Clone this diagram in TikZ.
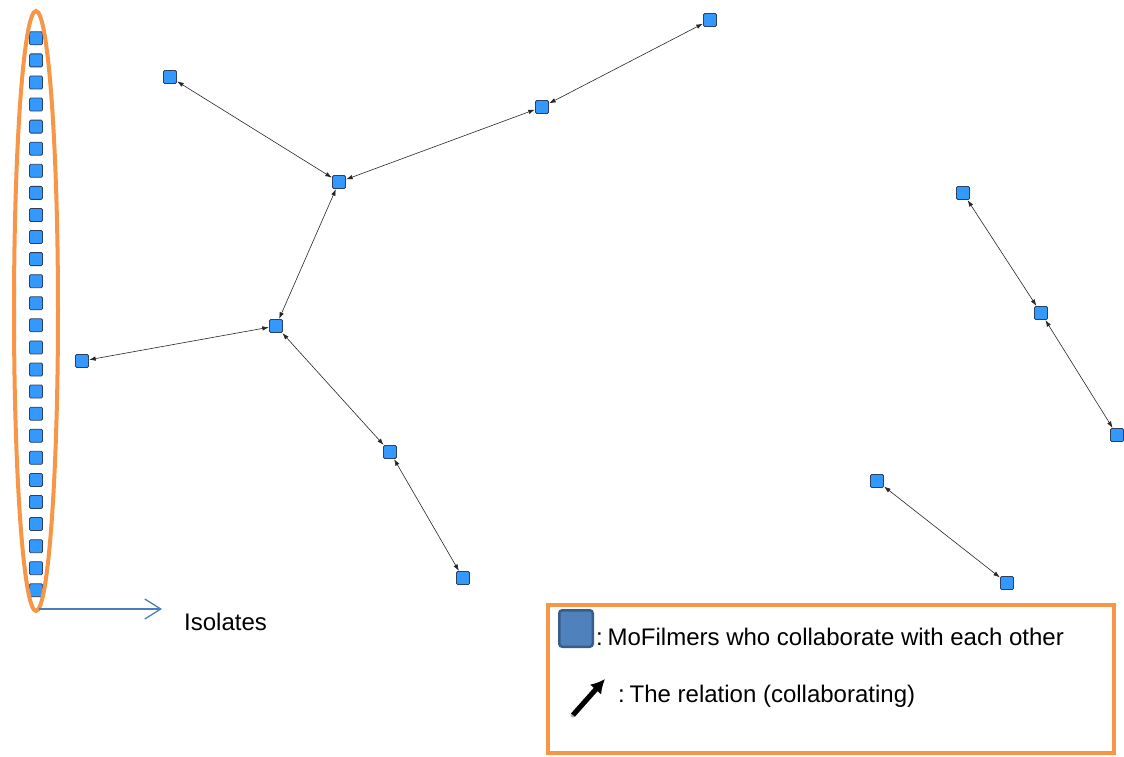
\documentclass[tikz,border=0pt]{standalone}
\usepackage{fontspec}
\setmainfont{Liberation Sans}
\usetikzlibrary{arrows.meta,shapes.geometric}
\definecolor{nodeblue}{RGB}{51,153,255}
\definecolor{nodeedge}{RGB}{45,65,95}
\definecolor{ringorange}{RGB}{247,150,70}
\definecolor{isoblue}{RGB}{74,126,187}
\definecolor{legfill}{RGB}{79,129,189}
\definecolor{legedge}{RGB}{56,93,138}
\tikzset{
  netnode/.style={rectangle, minimum size=13pt, inner sep=0pt, fill=nodeblue,
    draw=nodeedge, line width=0.8pt, rounded corners=1.2pt},
  link/.style={draw=black!85, line width=0.6pt,
    {Latex[length=6.5pt,width=4.5pt]}-{Latex[length=6.5pt,width=4.5pt]}, shorten <=0.3pt, shorten >=0.3pt},
  bigtext/.style={font=\fontsize{24}{28}\selectfont, inner sep=0pt}
}
\begin{document}
\begin{tikzpicture}[x=1pt,y=-1pt]
\useasboundingbox (0,0) rectangle (1124,756);
% isolates
\foreach \i in {0,...,25}{
  \node[netnode] (iso\i) at (36,{38.3+22.08*\i}) {};
}
\node[ellipse, draw=ringorange, line width=4pt, minimum width=44pt, minimum height=600pt, inner sep=0pt] (ring) at (36,311) {};
\coordinate (isoS) at (39,609);
\coordinate (isoE) at (162,609);
\draw[isoblue, line width=1.3pt, -{Straight Barb[length=16pt,width=20pt,line width=1.3pt]}] (isoS) -- (isoE);
\node[bigtext, anchor=base west] (isolbl) at (184,630) {Isolates};
% network nodes
\node[netnode] (A) at (170,77) {};
\node[netnode] (B) at (339,182) {};
\node[netnode] (C) at (542,107) {};
\node[netnode] (D) at (710,20) {};
\node[netnode] (E) at (276,326) {};
\node[netnode] (F) at (82,361) {};
\node[netnode] (G) at (390,452) {};
\node[netnode] (H) at (463,578) {};
\node[netnode] (I) at (963,193) {};
\node[netnode] (J) at (1041,313) {};
\node[netnode] (K) at (1117,435) {};
\node[netnode] (L) at (877,481) {};
\node[netnode] (M) at (1007,583) {};
\draw[link] (A) -- (B);
\draw[link] (B) -- (C);
\draw[link] (C) -- (D);
\draw[link] (B) -- (E);
\draw[link] (E) -- (F);
\draw[link] (E) -- (G);
\draw[link] (G) -- (H);
\draw[link] (I) -- (J);
\draw[link] (J) -- (K);
\draw[link] (L) -- (M);
% legend
\node[draw=ringorange, line width=4pt, minimum width=566pt, minimum height=148pt, inner sep=0pt] (legend) at (831,679) {};
\node[rectangle, minimum width=33.5pt, minimum height=36.5pt, inner sep=0pt, fill=legfill, draw=legedge, line width=2.5pt, rounded corners=3pt] (legsq) at (576,628.5) {};
\node[bigtext, anchor=base west] (leg1) at (596,645) {:\kern0.2em MoFilmers who collaborate with each other};
\coordinate (la) at (573,715);
\coordinate (lb) at (605,679);
\draw[black!30, line width=5pt, line cap=round, -{Latex[length=14pt,width=15pt]}, shift={(2pt,-3pt)}] (la) -- (lb);
\draw[black, line width=5pt, -{Latex[length=14pt,width=15pt]}] (la) -- (lb);
\node[bigtext, anchor=base west] (leg2) at (618,702) {:\kern0.2em The relation (collaborating)};
\end{tikzpicture}
\end{document}
